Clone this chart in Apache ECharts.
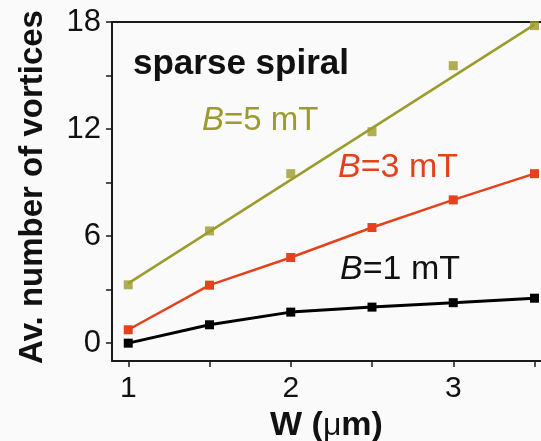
<!DOCTYPE html>
<html>
<head>
<meta charset="utf-8">
<script src="https://cdn.jsdelivr.net/npm/echarts@6/dist/echarts.min.js"></script>
<style>
  html, body { margin: 0; padding: 0; background: #fafafa; }
  #chart { width: 541px; height: 441px; }
</style>
</head>
<body>
<div id="chart"></div>
<script>
// Channel width W (µm)
const widths = [1, 1.5, 2, 2.5, 3, 3.5];
// Average vortex counts for each applied field
const vortices1mT = [0.0, 1.03, 1.74, 2.02, 2.27, 2.52];
const vortices3mT = [0.75, 3.25, 4.8, 6.48, 8.03, 9.5];
const vortices5mT = [3.27, 6.29, 9.5, 11.85, 15.55, 17.8];
// Linear fit drawn through the 5 mT data
const fit5mTW = [1, 3.5];
const fit5mTY = [3.35, 17.85];
// Tick positions and labelled values
const xTicks = [1, 1.5, 2, 2.5, 3, 3.5];
const xLabels = [1, 2, 3];
const yTicks = [0, 3, 6, 9, 12, 15, 18];
const yLabels = [0, 6, 12, 18];

const OLIVE = '#9c9b2c';
const RED = '#e4421d';
const BLACK = '#000000';
const AXIS = '#1a1a1a';
const FONT = '"Liberation Sans", Arial, Helvetica, sans-serif';

const pairs = (xs, ys) => xs.map((x, i) => [x, ys[i]]);

const chart = echarts.init(document.getElementById('chart'), null, { renderer: 'canvas' });

function fieldLabel(value, color, size) {
  return {
    text: '{i|B}{n|=' + value + ' mT}',
    rich: {
      i: { fontSize: size, fontStyle: 'italic', fill: color, fontFamily: FONT },
      n: { fontSize: size, fill: color, fontFamily: FONT }
    }
  };
}

chart.setOption({
  backgroundColor: '#fafafa',
  animation: false,
  grid: { left: 112, top: 22, right: 0, bottom: 80, containLabel: false, outerBoundsMode: 'none' },
  xAxis: [
    {
      type: 'value', min: 0.9, max: 3.54, position: 'bottom',
      axisLine: { show: true, onZero: false, lineStyle: { color: AXIS, width: 2 } },
      axisTick: { show: true, customValues: xTicks, length: 6, lineStyle: { color: AXIS, width: 1.5 } },
      axisLabel: { show: true, customValues: xLabels, margin: 13, fontSize: 30, color: '#111', fontFamily: FONT },
      splitLine: { show: false },
      name: '{b|W (}{m|μ}{b|m)}',
      nameLocation: 'middle', nameGap: 33,
      nameTextStyle: {
        rich: {
          b: { fontSize: 34, fontWeight: 'bold', color: '#111', fontFamily: FONT },
          m: { fontSize: 32, fontWeight: 'normal', color: '#111', fontFamily: FONT }
        }
      }
    },
    {
      type: 'value', min: 0.9, max: 3.54, position: 'top',
      axisLine: { show: true, onZero: false, lineStyle: { color: AXIS, width: 2 } },
      axisTick: { show: false }, axisLabel: { show: false }, splitLine: { show: false }
    }
  ],
  yAxis: [
    {
      type: 'value', min: -1, max: 18, position: 'left',
      axisLine: { show: true, onZero: false, lineStyle: { color: AXIS, width: 2 } },
      axisTick: { show: true, customValues: yTicks, length: 6, lineStyle: { color: AXIS, width: 1.5 } },
      axisLabel: { show: true, customValues: yLabels, margin: 11, fontSize: 31, color: '#111', fontFamily: FONT },
      splitLine: { show: false },
      name: 'Av. number of vortices',
      nameLocation: 'middle', nameGap: 63, nameRotate: 90,
      nameTextStyle: { fontSize: 33, fontWeight: 'bold', color: '#111', fontFamily: FONT, padding: [0, 0, 0, 9] }
    }
  ],
  series: [
    {
      name: 'B=5 mT fit', type: 'line', data: pairs(fit5mTW, fit5mTY),
      showSymbol: false, symbol: 'none', z: 3,
      lineStyle: { color: OLIVE, width: 2.5 }
    },
    {
      name: 'B=5 mT', type: 'scatter', data: pairs(widths, vortices5mT),
      symbol: 'rect', symbolSize: 9, z: 2,
      itemStyle: { color: OLIVE }
    },
    {
      name: 'B=3 mT', type: 'line', data: pairs(widths, vortices3mT),
      symbol: 'rect', symbolSize: 9, showAllSymbol: true,
      lineStyle: { color: RED, width: 2.5 }, itemStyle: { color: RED }
    },
    {
      name: 'B=1 mT', type: 'line', data: pairs(widths, vortices1mT),
      symbol: 'rect', symbolSize: 9, showAllSymbol: true,
      lineStyle: { color: BLACK, width: 3 }, itemStyle: { color: BLACK }
    }
  ],
  graphic: [
    {
      type: 'text', left: 133, top: 47,
      style: { text: 'sparse spiral', font: 'bold 35px ' + FONT, fill: '#111' }
    },
    { type: 'text', left: 202, top: 104, style: fieldLabel(5, OLIVE, 33) },
    { type: 'text', left: 338, top: 151, style: fieldLabel(3, RED, 34) },
    { type: 'text', left: 340, top: 253, style: fieldLabel(1, '#111', 34) }
  ]
});
</script>
</body>
</html>
